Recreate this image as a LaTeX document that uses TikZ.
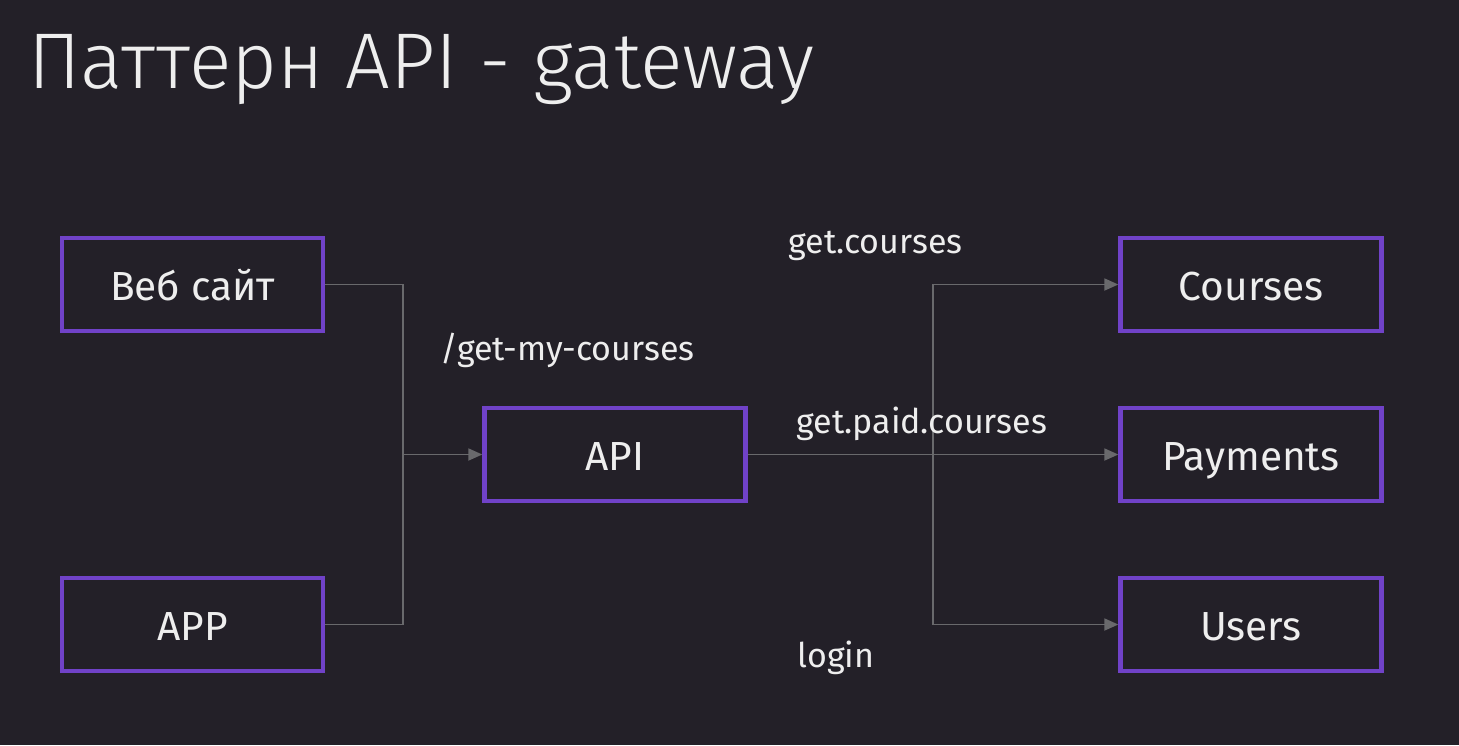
\documentclass[tikz,border=0pt]{standalone}
\usepackage{fontspec}
\setmainfont{Fira Sans}
\newfontfamily\titlefont{Fira Sans Light}
\usetikzlibrary{arrows.meta}
\definecolor{bg}{RGB}{35,32,40}
\definecolor{boxline}{RGB}{112,66,200}
\definecolor{wire}{RGB}{105,105,108}
\definecolor{txt}{RGB}{238,238,238}
\begin{document}
\begin{tikzpicture}[x=0.5pt,y=-0.5pt,
  svc/.style={draw=boxline,line width=2.2pt,minimum width=130.5pt,minimum height=46.5pt,inner sep=0pt,text=txt,font=\fontsize{20.3}{22}\selectfont},
  boxtext/.style={inner sep=0pt,text=txt,font=\fontsize{20.3}{22}\selectfont},
  wirestyle/.style={draw=wire,line width=0.9pt},
  arr/.style={wirestyle,-{Triangle[length=7pt,width=6pt]}},
  lbl/.style={anchor=base west,inner sep=0pt,text=txt,font=\fontsize{17}{19}\selectfont}]
\fill[bg] (0,0) rectangle (1459,745);
\useasboundingbox (0,0) rectangle (1459,745);
\node[anchor=base west,inner sep=0pt,text=txt,font=\titlefont\fontsize{39.5}{44}\selectfont] (title) at (28,88) {Паттерн API - gateway};
\node[svc] (web) at (192.5,284.5) {};
\node[svc] (app) at (192.5,624.5) {};
\node[svc] (api) at (615,454.5) {};
\node[svc] (courses) at (1251,284.5) {};
\node[svc] (pay) at (1251,454.5) {};
\node[svc] (users) at (1251,624.5) {};
\node[boxtext,anchor=base] (tweb) at (192.5,300) {Веб сайт};
\node[boxtext,anchor=base] (tapp) at (192.5,640) {APP};
\node[boxtext,anchor=base] (tapi) at (615,470) {API};
\node[boxtext,anchor=base] (tcourses) at (1251,300) {Courses};
\node[boxtext,anchor=base] (tpay) at (1251,470) {Payments};
\node[boxtext,anchor=base] (tusers) at (1251,640) {Users};
\coordinate (lj) at (403,454.5);
\coordinate (rj) at (933,454.5);
\draw[wirestyle] (web.east) -| (lj);
\draw[wirestyle] (app.east) -| (lj);
\draw[arr] (lj) -- (api.west);
\draw[arr] (api.east) -- (pay.west);
\draw[arr] (rj) |- (courses.west);
\draw[arr] (rj) |- (users.west);
\node[lbl] (l1) at (440,360) {/get-my-courses};
\node[lbl] (l2) at (788,253) {get.courses};
\node[lbl] (l3) at (796,433) {get.paid.courses};
\node[lbl] (l4) at (797,667) {login};
\end{tikzpicture}
\end{document}
